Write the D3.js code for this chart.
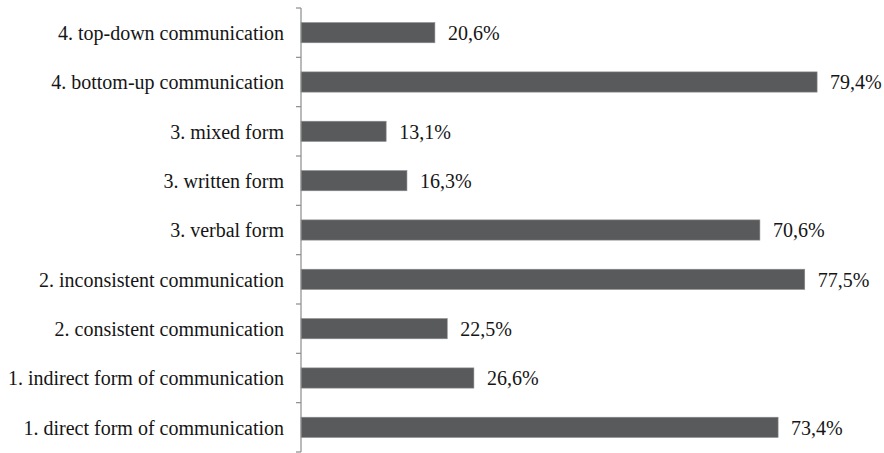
<!DOCTYPE html>
<html>
<head>
<meta charset="utf-8">
<script src="https://cdn.jsdelivr.net/npm/d3@7"></script>
<style>
  html, body { margin: 0; padding: 0; background: #fff; }
  svg { display: block; }
</style>
</head>
<body>
<svg id="chart" width="884" height="453"></svg>
<script>
// Categories listed top to bottom
const categories = [
  "4. top-down communication",
  "4. bottom-up communication",
  "3. mixed form",
  "3. written form",
  "3. verbal form",
  "2. inconsistent communication",
  "2. consistent communication",
  "1. indirect form of communication",
  "1. direct form of communication"
];
const values = [20.6, 79.4, 13.1, 16.3, 70.6, 77.5, 22.5, 26.6, 73.4];
const valueLabels = ["20,6%", "79,4%", "13,1%", "16,3%", "70,6%", "77,5%", "22,5%", "26,6%", "73,4%"];

const FONT = "'Liberation Serif', 'Times New Roman', serif";
const FONT_SIZE = 20;
const svg = d3.select("#chart");
const axisX = 301;

const x = d3.scaleLinear().domain([0, 100]).range([axisX, axisX + 650]);
const y = d3.scaleBand().domain(categories).range([8, 452]).paddingInner(0.59).paddingOuter(0.295);
const yTicks = d3.scaleBand().domain(categories).range([8, 452]);

// Bars
svg.selectAll("rect.bar")
  .data(categories)
  .join("rect")
  .attr("class", "bar")
  .attr("x", x(0))
  .attr("y", d => y(d))
  .attr("width", (d, i) => x(values[i]) - x(0))
  .attr("height", y.bandwidth())
  .attr("fill", "#595a5c")
  .attr("stroke", "#8a8b8d")
  .attr("stroke-width", 0.6);

// Value labels
svg.selectAll("text.val")
  .data(categories)
  .join("text")
  .attr("class", "val")
  .attr("x", (d, i) => x(values[i]) + 13)
  .attr("y", d => y(d) + y.bandwidth() / 2)
  .attr("dy", "0.37em")
  .attr("font-family", FONT)
  .attr("font-size", FONT_SIZE)
  .attr("fill", "#151515")
  .text((d, i) => valueLabels[i]);

// Vertical axis with ticks at category boundaries
const axisG = svg.append("g").attr("stroke", "#8c8c8c").attr("stroke-width", 1.2);
axisG.append("line")
  .attr("x1", axisX).attr("x2", axisX)
  .attr("y1", yTicks.range()[0]).attr("y2", yTicks.range()[1]);
const boundaries = categories.map(c => yTicks(c)).concat([yTicks.range()[1]]);
axisG.selectAll("line.tick")
  .data(boundaries)
  .join("line")
  .attr("class", "tick")
  .attr("x1", axisX - 5).attr("x2", axisX)
  .attr("y1", d => d).attr("y2", d => d);

// Category labels
svg.selectAll("text.cat")
  .data(categories)
  .join("text")
  .attr("class", "cat")
  .attr("x", axisX - 17)
  .attr("y", d => yTicks(d) + yTicks.bandwidth() / 2)
  .attr("dy", "0.37em")
  .attr("text-anchor", "end")
  .attr("font-family", FONT)
  .attr("font-size", FONT_SIZE)
  .attr("fill", "#151515")
  .text(d => d);
</script>
</body>
</html>
